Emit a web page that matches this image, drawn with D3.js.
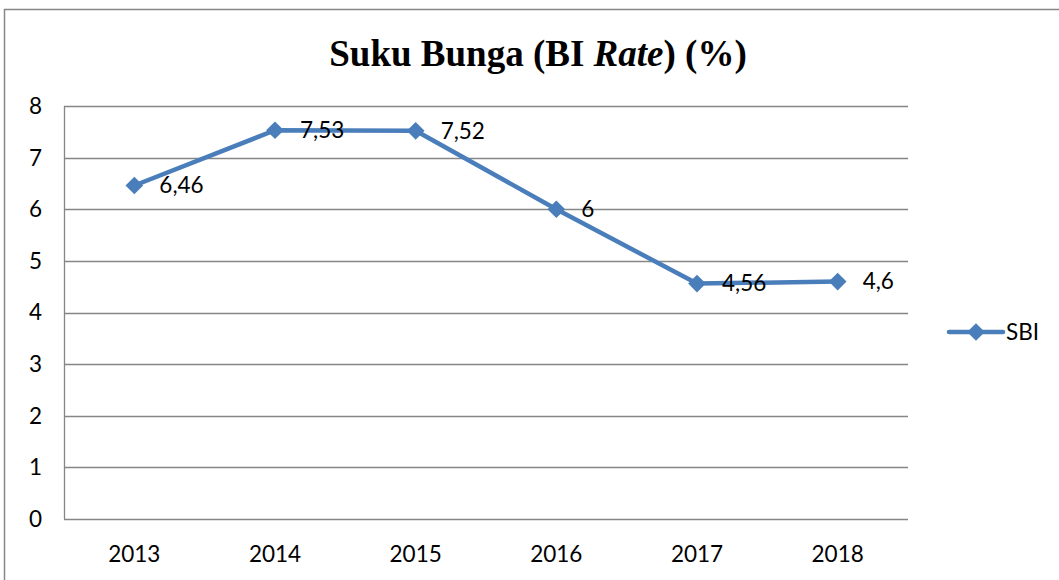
<!DOCTYPE html>
<html>
<head>
<meta charset="utf-8">
<script src="https://cdn.jsdelivr.net/npm/d3@7"></script>
<style>
  body { margin: 0; background: #fff; }
  svg { display: block; }
</style>
</head>
<body>
<svg id="chart" width="1059" height="580"></svg>
<script>
const years = ['2013', '2014', '2015', '2016', '2017', '2018'];
const sbi = [6.46, 7.53, 7.52, 6, 4.56, 4.6];
const sbiLabels = ['6,46', '7,53', '7,52', '6', '4,56', '4,6'];
const yTicks = [0, 1, 2, 3, 4, 5, 6, 7, 8];

const W = 1059, H = 580;
const plot = { left: 64, right: 908, top: 106, bottom: 519 };
const blue = '#4a7ebb';
const gridColor = '#868686';
const labelFont = 'Lato, Carlito, "Open Sans", sans-serif';
const labelSize = '22.5px';

const svg = d3.select('#chart');

// outer chart frame
svg.append('rect')
  .attr('x', 4.5).attr('y', 9.5)
  .attr('width', W + 20).attr('height', H + 20)
  .attr('fill', 'none')
  .attr('stroke', gridColor)
  .attr('stroke-width', 1.5);

svg.append('text')
  .attr('x', 538).attr('y', 66)
  .attr('text-anchor', 'middle')
  .style('font-family', '"Liberation Serif", "Times New Roman", serif')
  .style('font-weight', 'bold')
  .style('font-size', '37px')
  .html('Suku Bunga (BI <tspan font-style="italic">Rate</tspan>) (%)');

const x = d3.scaleBand().domain(years).range([plot.left, plot.right]);
const y = d3.scaleLinear().domain([0, 8]).range([plot.bottom, plot.top]);

// gridlines
svg.append('g')
  .selectAll('line')
  .data(yTicks)
  .enter()
  .append('line')
  .attr('x1', plot.left).attr('x2', plot.right)
  .attr('y1', d => Math.round(y(d)) + 0.5)
  .attr('y2', d => Math.round(y(d)) + 0.5)
  .attr('stroke', gridColor)
  .attr('stroke-width', 1.3);

svg.append('line')
  .attr('x1', plot.left + 0.5).attr('x2', plot.left + 0.5)
  .attr('y1', plot.top).attr('y2', plot.bottom)
  .attr('stroke', gridColor)
  .attr('stroke-width', 1.3);

// y labels
svg.append('g')
  .selectAll('text')
  .data(yTicks)
  .enter()
  .append('text')
  .attr('x', 42)
  .attr('y', d => y(d))
  .attr('dy', '0.35em')
  .attr('text-anchor', 'end')
  .style('font-family', labelFont)
  .style('font-size', labelSize)
  .text(d => d);

// x labels
svg.append('g')
  .selectAll('text')
  .data(years)
  .enter()
  .append('text')
  .attr('x', d => x(d) + x.bandwidth() / 2)
  .attr('y', 554)
  .attr('dy', '0.35em')
  .attr('text-anchor', 'middle')
  .style('font-family', labelFont)
  .style('font-size', labelSize)
  .text(d => d);

const cx = (d, i) => x(years[i]) + x.bandwidth() / 2;

const line = d3.line()
  .x((d, i) => cx(d, i))
  .y(d => y(d));

svg.append('path')
  .datum(sbi)
  .attr('d', line)
  .attr('fill', 'none')
  .attr('stroke', blue)
  .attr('stroke-width', 4.5)
  .attr('stroke-linejoin', 'round');

const diamond = d3.symbol().type(d3.symbolDiamond2).size(200);

svg.append('g')
  .selectAll('path')
  .data(sbi)
  .enter()
  .append('path')
  .attr('d', diamond)
  .attr('transform', (d, i) => `translate(${cx(d, i)},${y(d)})`)
  .attr('fill', blue);

svg.append('g')
  .selectAll('text')
  .data(sbi)
  .enter()
  .append('text')
  .attr('x', (d, i) => cx(d, i) + 25)
  .attr('y', d => y(d))
  .attr('dy', '0.35em')
  .style('font-family', labelFont)
  .style('font-size', labelSize)
  .text((d, i) => sbiLabels[i]);

// legend
const lg = svg.append('g').attr('transform', 'translate(949,332)');
lg.append('line')
  .attr('x1', 0).attr('x2', 54)
  .attr('stroke', blue)
  .attr('stroke-width', 4.5)
  .attr('stroke-linecap', 'round');
lg.append('path')
  .attr('d', diamond)
  .attr('transform', 'translate(27,0)')
  .attr('fill', blue);
lg.append('text')
  .attr('x', 57).attr('dy', '0.35em')
  .style('font-family', labelFont)
  .style('font-size', labelSize)
  .text('SBI');
</script>
</body>
</html>
